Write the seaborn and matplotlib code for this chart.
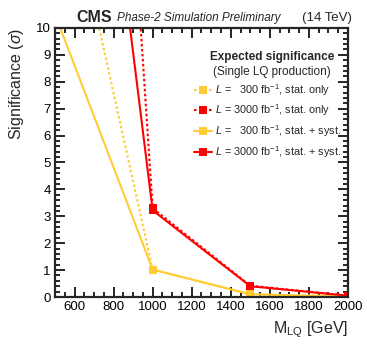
import matplotlib
matplotlib.use("Agg")
import matplotlib.pyplot as plt
import seaborn as sns
import pandas as pd
from matplotlib.ticker import MultipleLocator

sns.set_style("ticks")
plt.rcParams['font.family'] = ['Liberation Sans', 'DejaVu Sans']
plt.rcParams['mathtext.fontset'] = 'custom'
plt.rcParams['mathtext.rm'] = 'Liberation Sans'
plt.rcParams['mathtext.it'] = 'Liberation Sans:italic'

# 质量点 (GeV) 和各情形的显著性
mass = [500, 1000, 1500, 2000]
sig_300_stat = [17.4, 1.02, 0.10, 0.02]
sig_3000_stat = [58.0, 3.30, 0.42, 0.05]
sig_300_syst = [10.5, 1.02, 0.10, 0.02]
sig_3000_syst = [32.5, 3.22, 0.40, 0.05]

labels = [r"$L$ =   300 fb$^{-1}$, stat. only",
          r"$L$ = 3000 fb$^{-1}$, stat. only",
          r"$L$ =   300 fb$^{-1}$, stat. + syst.",
          r"$L$ = 3000 fb$^{-1}$, stat. + syst."]
series = [sig_300_stat, sig_3000_stat, sig_300_syst, sig_3000_syst]
colors = ["#ffcc33", "#ff0000", "#ffcc33", "#ff0000"]
styles = [(0, (1.2, 1.2)), (0, (1.2, 1.2)), "-", "-"]

fig = plt.figure(figsize=(3.67, 3.54), dpi=100)
ax = fig.add_axes([0.150, 0.161, 0.798, 0.760])

for lab, vals, c, ls in zip(labels, series, colors, styles):
    df = pd.DataFrame({"mass": mass, "sig": vals})
    sns.lineplot(data=df, x="mass", y="sig", ax=ax, color=c, linestyle=ls,
                 linewidth=1.5, marker="s", markersize=6, markeredgewidth=0,
                 label=lab)

ax.set_xlim(500, 2000)
ax.set_ylim(0, 10)
ax.xaxis.set_major_locator(MultipleLocator(200))
ax.xaxis.set_minor_locator(MultipleLocator(50))
ax.yaxis.set_major_locator(MultipleLocator(1))
ax.yaxis.set_minor_locator(MultipleLocator(0.2))
ax.tick_params(which="both", direction="in", top=True, right=True, width=1.2,
               labelsize=9.5, colors="black", pad=3)
ax.tick_params(which="major", length=7)
ax.tick_params(which="minor", length=3.5)
for sp in ax.spines.values():
    sp.set_linewidth(1.6)

ax.set_xlabel(r"M$_{\mathrm{LQ}}$ [GeV]", fontsize=11.5, loc="right")
ax.set_ylabel(r"Significance ($\sigma$)", fontsize=11.5, loc="top")
ax.xaxis.set_label_coords(1.0, -0.085)
ax.yaxis.set_label_coords(-0.1, 1.0)

fig.text(0.207, 0.93, "CMS", fontsize=11.5, fontweight="bold", va="bottom")
fig.text(0.319, 0.932, "Phase-2 Simulation Preliminary", fontsize=8.5, style="italic",
         va="bottom")
fig.text(0.959, 0.932, "(14 TeV)", fontsize=9.5, ha="right", va="bottom")

ax.text(0.74, 0.893, "Expected significance", transform=ax.transAxes, fontsize=8.5,
        fontweight="bold", ha="center", va="center")
ax.text(0.74, 0.835, "(Single LQ production)", transform=ax.transAxes, fontsize=8.5,
        ha="center", va="center")
ax.legend(loc="upper left", bbox_to_anchor=(0.455, 0.82), frameon=False, fontsize=7.8,
          handlelength=1.7, handletextpad=0.25, labelspacing=0.45, borderpad=0)

fig.savefig("out.png", dpi=100)
